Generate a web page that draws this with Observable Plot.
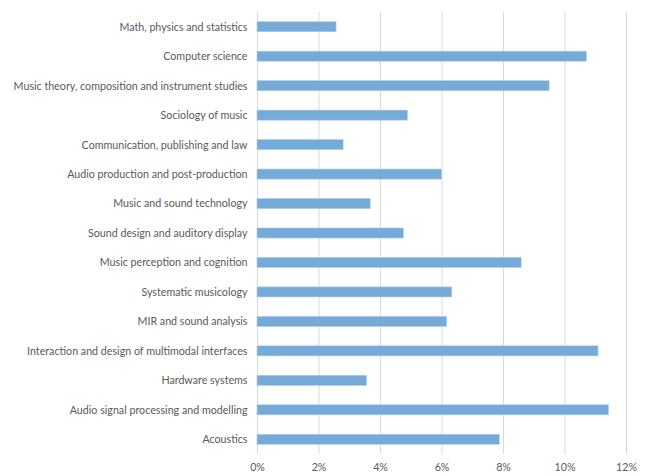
<!DOCTYPE html>
<html><head><meta charset="utf-8">
<script src="https://cdn.jsdelivr.net/npm/d3@7"></script>
<script src="https://cdn.jsdelivr.net/npm/@observablehq/plot@0.6"></script>
<style>body{margin:0;background:#fff;} #chart{width:652px;height:476px;}</style>
</head><body><div id="chart"></div>
<script>
const categories = [
  "Math, physics and statistics",
  "Computer science",
  "Music theory, composition and instrument studies",
  "Sociology of music",
  "Communication, publishing and law",
  "Audio production and post-production",
  "Music and sound technology",
  "Sound design and auditory display",
  "Music perception and cognition",
  "Systematic musicology",
  "MIR and sound analysis",
  "Interaction and design of multimodal interfaces",
  "Hardware systems",
  "Audio signal processing and modelling",
  "Acoustics"
];
const shares = [2.57, 10.71, 9.50, 4.89, 2.80, 6.00, 3.68, 4.76, 8.59, 6.33, 6.16, 11.09, 3.56, 11.43, 7.88];
const xTicks = [0, 2, 4, 6, 8, 10, 12];

const data = categories.map((c, i) => ({category: c, value: shares[i]}));

const chart = Plot.plot({
  width: 652,
  height: 476,
  marginLeft: 257,
  marginRight: 26,
  marginTop: 12,
  marginBottom: 22,
  style: {fontFamily: "Lato, sans-serif", fontSize: "10.7px", color: "#595959", background: "#fff"},
  x: {domain: [0, 12], ticks: xTicks, tickFormat: d => d + "%", tickSize: 0, tickPadding: 9, label: null},
  y: {domain: categories, paddingInner: 0.66, paddingOuter: 0.33, round: false, tickSize: 0, tickPadding: 10, label: null},
  marks: [
    Plot.gridX(xTicks, {stroke: "#d9d9d9", strokeOpacity: 1, strokeWidth: 1}),
    Plot.barX(data, {y: "category", x: "value", fill: "#76aad9", stroke: "#a9c9e8", strokeWidth: 0.6}),
    Plot.axisX({ticks: xTicks, tickFormat: d => d + "%", tickSize: 0, tickPadding: 9, fill: "#595959"}),
    Plot.axisY({tickSize: 0, tickPadding: 10, fill: "#595959"})
  ]
});
document.getElementById("chart").appendChild(chart);
</script></body></html>
